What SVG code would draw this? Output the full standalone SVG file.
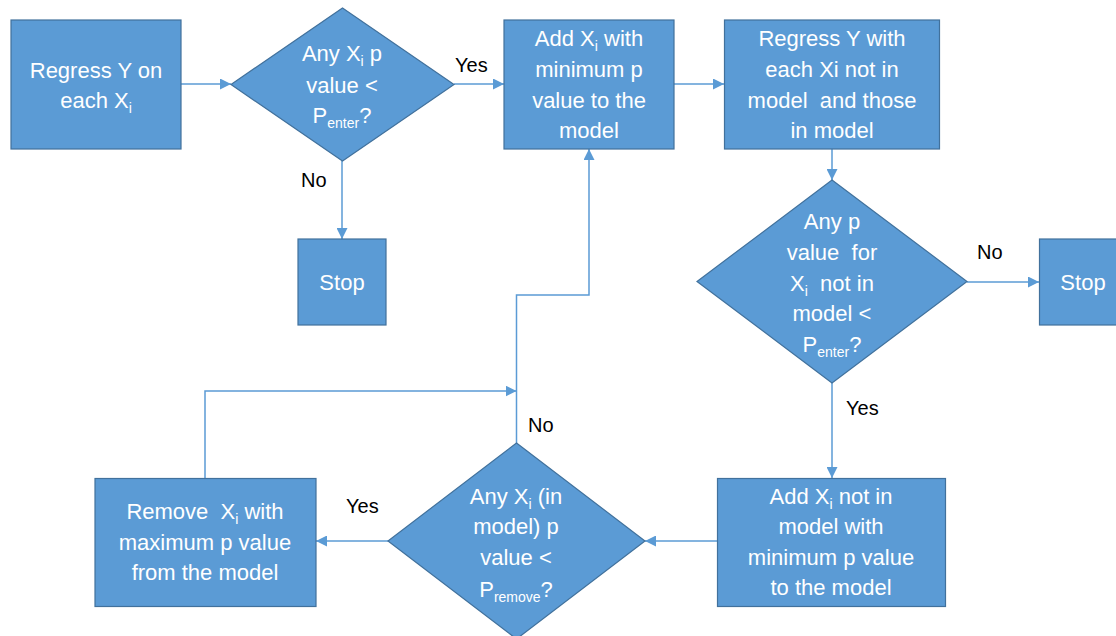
<svg xmlns="http://www.w3.org/2000/svg" width="1116" height="636" viewBox="0 0 1116 636">
<style>
.box{fill:#5B9BD5;stroke:#41719C;stroke-width:1.2}
.t{font-family:"Liberation Sans",Arial,sans-serif;font-size:22px;fill:#ffffff;text-anchor:middle;white-space:pre}
.sub{font-size:14px}
.lbl{font-family:"Liberation Sans",Arial,sans-serif;font-size:20px;fill:#000000}
.c{fill:none;stroke:#5B9BD5;stroke-width:1.5}
</style>
<defs>
<marker id="ah" markerUnits="userSpaceOnUse" markerWidth="12" markerHeight="11" refX="11" refY="5.5" orient="auto">
<path d="M0,0 L11,5.5 L0,11 z" fill="#5B9BD5"/>
</marker>
</defs>
<rect width="1116" height="636" fill="#ffffff"/>
<g id="connectors">
<path class="c" d="M181,84 L231,84" marker-end="url(#ah)"/>
<path class="c" d="M454,84 L504,84" marker-end="url(#ah)"/>
<path class="c" d="M342,161 L342,239" marker-end="url(#ah)"/>
<path class="c" d="M674,84 L724,84" marker-end="url(#ah)"/>
<path class="c" d="M832,149 L832,180" marker-end="url(#ah)"/>
<path class="c" d="M967,282 L1039,282" marker-end="url(#ah)"/>
<path class="c" d="M832,383 L832,478" marker-end="url(#ah)"/>
<path class="c" d="M717,541 L645,541" marker-end="url(#ah)"/>
<path class="c" d="M388,541 L316,541" marker-end="url(#ah)"/>
<path class="c" d="M516.5,443 L516.5,295 L589,295 L589,149" marker-end="url(#ah)"/>
<path class="c" d="M205,478 L205,391 L516.5,391" marker-end="url(#ah)"/>
</g>
<g id="labels">
<text class="lbl" x="455" y="72">Yes</text>
<text class="lbl" x="301" y="187">No</text>
<text class="lbl" x="977" y="259">No</text>
<text class="lbl" x="846" y="415">Yes</text>
<text class="lbl" x="528" y="432">No</text>
<text class="lbl" x="346" y="513">Yes</text>
</g>
<g id="n1">
<rect class="box" x="11" y="20" width="170" height="129"/>
<text class="t" x="96" y="78">Regress Y on</text>
<text class="t" x="96" y="108">each X<tspan class="sub" dy="5">i</tspan></text>
</g>
<g id="d1">
<polygon class="box" points="342.5,8 454,84.5 342.5,161 231,84.5"/>
<text class="t" x="342" y="61">Any X<tspan class="sub" dy="5">i</tspan><tspan dy="-5"> p</tspan></text>
<text class="t" x="342" y="93">value &lt;</text>
<text class="t" x="342" y="123">P<tspan class="sub" dy="5">enter</tspan><tspan dy="-5">?</tspan></text>
</g>
<g id="stop1">
<rect class="box" x="298" y="239" width="88" height="86"/>
<text class="t" x="342" y="290">Stop</text>
</g>
<g id="n2">
<rect class="box" x="504" y="20" width="170" height="129"/>
<text class="t" x="589" y="46">Add X<tspan class="sub" dy="5">i</tspan><tspan dy="-5"> with</tspan></text>
<text class="t" x="589" y="77">minimum p</text>
<text class="t" x="589" y="108">value to the</text>
<text class="t" x="589" y="138">model</text>
</g>
<g id="n3">
<rect class="box" x="724.5" y="20" width="215" height="129"/>
<text class="t" x="832" y="46">Regress Y with</text>
<text class="t" x="832" y="77">each Xi not in</text>
<text class="t" x="832" y="108">model  and those</text>
<text class="t" x="832" y="138">in model</text>
</g>
<g id="d2">
<polygon class="box" points="832,180 967,281.5 832,383 697,281.5"/>
<text class="t" x="832" y="229">Any p</text>
<text class="t" x="832" y="260">value  for</text>
<text class="t" x="832" y="291">X<tspan class="sub" dy="5">i</tspan><tspan dy="-5">  not in</tspan></text>
<text class="t" x="832" y="321">model &lt;</text>
<text class="t" x="832" y="352">P<tspan class="sub" dy="5">enter</tspan><tspan dy="-5">?</tspan></text>
</g>
<g id="stop2">
<rect class="box" x="1039.5" y="239" width="80" height="86"/>
<text class="t" x="1083" y="290">Stop</text>
</g>
<g id="n4">
<rect class="box" x="717.5" y="478.5" width="228" height="128"/>
<text class="t" x="831" y="504">Add X<tspan class="sub" dy="5">i</tspan><tspan dy="-5"> not in</tspan></text>
<text class="t" x="831" y="534">model with</text>
<text class="t" x="831" y="565">minimum p value</text>
<text class="t" x="831" y="595">to the model</text>
</g>
<g id="d3">
<polygon class="box" points="516.5,443 645,541 516.5,639 388,541"/>
<text class="t" x="516" y="504">Any X<tspan class="sub" dy="5">i</tspan><tspan dy="-5"> (in</tspan></text>
<text class="t" x="516" y="534">model) p</text>
<text class="t" x="516" y="565">value &lt;</text>
<text class="t" x="516" y="597">P<tspan class="sub" dy="5">remove</tspan><tspan dy="-5">?</tspan></text>
</g>
<g id="n5">
<rect class="box" x="95" y="478.5" width="221" height="128"/>
<text class="t" x="205" y="519">Remove  X<tspan class="sub" dy="5">i</tspan><tspan dy="-5"> with</tspan></text>
<text class="t" x="205" y="550">maximum p value</text>
<text class="t" x="205" y="580">from the model</text>
</g>
</svg>
